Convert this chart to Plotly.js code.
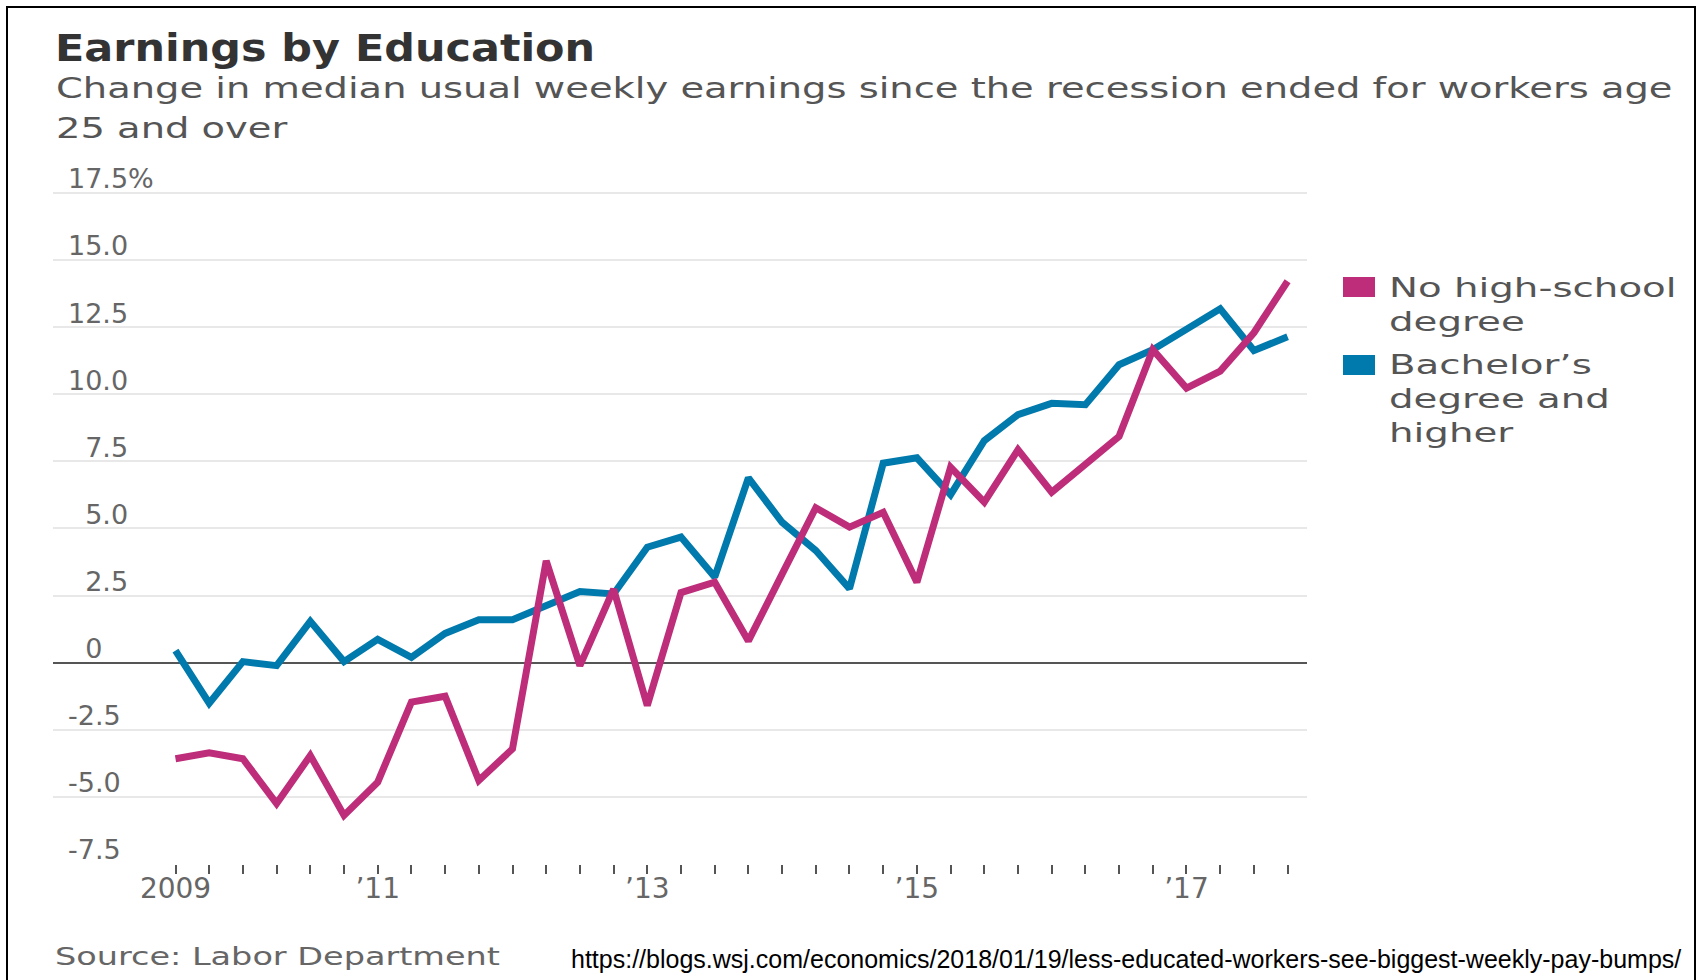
<!DOCTYPE html>
<html>
<head>
<meta charset="utf-8">
<script src="https://cdn.plot.ly/plotly-3.0.1.min.js"></script>
<style>
  html, body { margin: 0; padding: 0; background: #ffffff; }
  #wrap { position: relative; width: 1705px; height: 980px; overflow: hidden; }
  #chart { width: 1705px; height: 980px; }
  #frame { position: absolute; left: 6px; top: 6px; width: 1690px; height: 1000px;
           border: 2px solid #000; border-bottom: none; box-sizing: border-box; pointer-events: none; }
</style>
</head>
<body>
<div id="wrap"><div id="chart"></div><div id="frame"></div></div>
<script>
// ---------------- data ----------------
const quarters = ['2009 Q3','2009 Q4',
  '2010 Q1','2010 Q2','2010 Q3','2010 Q4',
  '2011 Q1','2011 Q2','2011 Q3','2011 Q4',
  '2012 Q1','2012 Q2','2012 Q3','2012 Q4',
  '2013 Q1','2013 Q2','2013 Q3','2013 Q4',
  '2014 Q1','2014 Q2','2014 Q3','2014 Q4',
  '2015 Q1','2015 Q2','2015 Q3','2015 Q4',
  '2016 Q1','2016 Q2','2016 Q3','2016 Q4',
  '2017 Q1','2017 Q2','2017 Q3','2017 Q4'];

const noHighSchool = [-3.58,-3.36,-3.58,-5.25,-3.46,-5.69,-4.45,-1.47,-1.25,-4.39,
  -3.21,3.79,-0.11,2.74,-1.60,2.61,3.00,0.81,3.30,5.77,
  5.05,5.60,3.00,7.28,5.98,7.93,6.35,7.40,8.43,11.66,
  10.23,10.86,12.29,14.21];

const bachelors = [0.45,-1.51,0.04,-0.11,1.54,0.04,0.87,0.20,1.09,1.60,
  1.60,2.12,2.65,2.56,4.30,4.68,3.19,6.88,5.23,4.18,
  2.76,7.43,7.63,6.26,8.27,9.24,9.66,9.61,11.10,11.66,
  12.41,13.18,11.63,12.14];

const seriesNames = ['No high-school<br>degree', 'Bachelor’s<br>degree and<br>higher'];

const yTickVals = [-7.5,-5,-2.5,0,2.5,5,7.5,10,12.5,15,17.5];
const yTickText = ['-7.5','-5.0','-2.5','\u20070','\u20072.5','\u20075.0','\u20077.5','10.0','12.5','15.0','17.5%'];

const yearLabels = {'2009 Q3':'2009','2011 Q1':'’11','2013 Q1':'’13','2015 Q1':'’15','2017 Q1':'’17'};

const titleText = 'Earnings by Education';
const subtitleLine1 = 'Change in median usual weekly earnings since the recession ended for workers age';
const subtitleLine2 = '25 and over';
const sourceText = 'Source: Labor Department';
const urlText = 'https://blogs.wsj.com/economics/2018/01/19/less-educated-workers-see-biggest-weekly-pay-bumps/';

// ---------------- geometry helpers (layout only) ----------------
const W = 1705, H = 980;
const M = {l: 53, r: 398, t: 158, b: 116};
const plotW = W - M.l - M.r, plotH = H - M.t - M.b;
const px2x = px => (px - M.l) / plotW;
const py2y = py => (H - M.b - py) / plotH;
const baseBottom = (py, size, desc) => py2y(py + 2 + desc * size);
const baseTop = (py, size, asc) => py2y(py - 2 - asc * size);

const PINK = '#bd2d79';
const BLUE = '#0079ac';
const WSJ = 'DejaVu Sans, Verdana, sans-serif';

const traces = [
  {x: quarters, y: bachelors, type: 'scatter', mode: 'lines', name: 'Bachelor’s degree and higher',
   line: {color: BLUE, width: 7}, hoverinfo: 'skip'},
  {x: quarters, y: noHighSchool, type: 'scatter', mode: 'lines', name: 'No high-school degree',
   line: {color: PINK, width: 7}, hoverinfo: 'skip'}
];

const annStretch = [];
const annotations = [];
function addAnn(a, stretch) { annotations.push(Object.assign({showarrow: false, xref: 'paper', yref: 'paper', xanchor: 'left', align: 'left'}, a)); annStretch.push(stretch || 1); }

addAnn({x: px2x(54), y: baseBottom(98, 29, 0.236), yanchor: 'bottom', text: subtitleLine1,
        font: {family: WSJ, size: 29, color: '#555'}}, 1.325);
addAnn({x: px2x(54), y: baseBottom(138, 29, 0.236), yanchor: 'bottom', text: subtitleLine2,
        font: {family: WSJ, size: 29, color: '#555'}}, 1.325);
addAnn({x: px2x(1387), y: baseTop(297, 26, 0.928), yanchor: 'top', text: seriesNames[0],
        font: {family: WSJ, size: 26, color: '#555'}}, 1.49);
addAnn({x: px2x(1387), y: baseTop(374, 26, 0.928), yanchor: 'top', text: seriesNames[1],
        font: {family: WSJ, size: 26, color: '#555'}}, 1.49);
addAnn({x: px2x(53), y: baseBottom(965, 25, 0.236), yanchor: 'bottom', text: sourceText,
        font: {family: WSJ, size: 25, color: '#666'}}, 1.34);
addAnn({x: px2x(569), y: baseBottom(968, 25, 0.212), yanchor: 'bottom', text: urlText,
        font: {family: 'Liberation Sans, Arial, sans-serif', size: 25, color: '#000'}}, 1);

const shapes = [
  {type: 'rect', xref: 'paper', yref: 'paper', x0: px2x(1343), x1: px2x(1375), y0: py2y(277), y1: py2y(297),
   fillcolor: PINK, line: {width: 0}},
  {type: 'rect', xref: 'paper', yref: 'paper', x0: px2x(1343), x1: px2x(1375), y0: py2y(355), y1: py2y(375),
   fillcolor: BLUE, line: {width: 0}}
];

const layout = {
  width: W, height: H,
  margin: {l: M.l, r: M.r, t: M.t, b: M.b, pad: 0},
  paper_bgcolor: '#ffffff', plot_bgcolor: '#ffffff',
  showlegend: false,
  font: {family: WSJ, color: '#666'},
  title: {
    text: titleText, xref: 'container', yref: 'container',
    x: 55 / W, xanchor: 'left', y: 1 - 35 / H, yanchor: 'top',
    font: {family: WSJ, size: 37, weight: 'bold', color: '#333'}
  },
  xaxis: {
    type: 'category', range: [-3.635, 33.576],
    tickmode: 'array', tickvals: quarters, ticktext: quarters.map(q => yearLabels[q] || ''),
    ticks: 'outside', ticklen: 9, tickwidth: 2, tickcolor: '#555',
    ticklabelstandoff: -10,
    showgrid: false, zeroline: false, showline: false,
    tickfont: {family: WSJ, size: 28, color: '#666'}, fixedrange: true
  },
  yaxis: {
    range: [-7.5, 18.8],
    tickmode: 'array', tickvals: yTickVals, ticktext: yTickText,
    ticks: '', showline: false,
    showgrid: true, gridcolor: '#e8e8e8', gridwidth: 2,
    zeroline: true, zerolinecolor: '#555', zerolinewidth: 2,
    ticklabelposition: 'inside', ticklabeloverflow: 'allow',
    ticklabelshift: -14, ticklabelstandoff: 12,
    tickfont: {family: WSJ, size: 27, color: '#666'}, fixedrange: true
  },
  annotations: annotations,
  shapes: shapes
};

function stretch(el, k) {
  el.style.transformBox = 'fill-box';
  el.style.transformOrigin = '0 50%';
  el.style.transform = 'scaleX(' + k + ')';
}

Plotly.newPlot('chart', traces, layout, {staticPlot: true, displayModeBar: false}).then(gd => {
  const t = gd.querySelector('.gtitle');
  if (t) stretch(t, 1.16);
  gd.querySelectorAll('.annotation').forEach(g => {
    const i = +g.getAttribute('data-index');
    const k = annStretch[i];
    const tx = g.querySelector('text');
    if (tx && k && k !== 1) stretch(tx, k);
  });
});
</script>
</body>
</html>
